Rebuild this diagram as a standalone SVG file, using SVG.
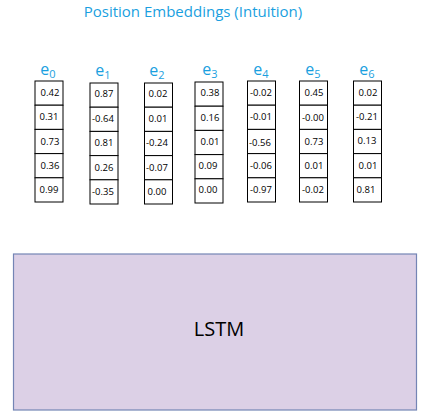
<svg xmlns="http://www.w3.org/2000/svg" width="431" height="416" viewBox="0 0 431 416">
<style>
.title{font-family:"Open Sans","Liberation Sans",sans-serif;font-size:15px;fill:#1a9fe0;text-anchor:middle}
.lab{font-family:"Open Sans","Liberation Sans",sans-serif;font-size:16px;fill:#1a9fe0;text-anchor:middle}
.sub{font-size:11px}
.cell{fill:#ffffff;stroke:#000000;stroke-width:1}
.num{font-family:"Open Sans","Liberation Sans",sans-serif;font-size:9.5px;fill:#000000;text-anchor:middle}
.lstm{fill:#dcd0e6;stroke:#7485b5;stroke-width:1.2}
.lstmt{font-family:"Open Sans","Liberation Sans",sans-serif;font-size:20px;fill:#000000;text-anchor:middle}
</style>
<rect width="431" height="416" fill="#ffffff"/>
<text class="title" x="193" y="17">Position Embeddings (Intuition)</text>
<defs>
<g id="col">
<rect class="cell" x="0" y="0" width="28" height="24.2"/>
<rect class="cell" x="0" y="24.2" width="28" height="24.2"/>
<rect class="cell" x="0" y="48.4" width="28" height="24.2"/>
<rect class="cell" x="0" y="72.6" width="28" height="24.2"/>
<rect class="cell" x="0" y="96.8" width="28" height="24.2"/>
</g>
</defs>
<g id="e0">
<text class="lab" x="48" y="75">e<tspan class="sub" dy="3">0</tspan></text>
<use href="#col" x="35" y="81"/>
<text class="num" x="50" y="96">0.42</text><text class="num" x="49" y="120">0.31</text><text class="num" x="50" y="145">0.73</text><text class="num" x="50" y="169">0.36</text><text class="num" x="49" y="193">0.99</text>
</g>
<g id="e1">
<text class="lab" x="103" y="76">e<tspan class="sub" dy="3">1</tspan></text>
<use href="#col" x="90" y="83"/>
<text class="num" x="104" y="97">0.87</text><text class="num" x="103" y="122">-0.64</text><text class="num" x="104" y="146">0.81</text><text class="num" x="104" y="171">0.26</text><text class="num" x="103" y="195">-0.35</text>
</g>
<g id="e2">
<text class="lab" x="157" y="76">e<tspan class="sub" dy="3">2</tspan></text>
<use href="#col" x="144.5" y="83"/>
<text class="num" x="158" y="97">0.02</text><text class="num" x="158" y="122">0.01</text><text class="num" x="157" y="146">-0.24</text><text class="num" x="157" y="171">-0.07</text><text class="num" x="157" y="195">0.00</text>
</g>
<g id="e3">
<text class="lab" x="210" y="75">e<tspan class="sub" dy="3">3</tspan></text>
<use href="#col" x="195" y="82"/>
<text class="num" x="210" y="96">0.38</text><text class="num" x="210" y="121">0.16</text><text class="num" x="210" y="145">0.01</text><text class="num" x="208" y="169">0.09</text><text class="num" x="208" y="193">0.00</text>
</g>
<g id="e4">
<text class="lab" x="261" y="75">e<tspan class="sub" dy="3">4</tspan></text>
<use href="#col" x="247.5" y="81"/>
<text class="num" x="261" y="96">-0.02</text><text class="num" x="261" y="120">-0.01</text><text class="num" x="260" y="146">-0.56</text><text class="num" x="261" y="169">-0.06</text><text class="num" x="261" y="193">-0.97</text>
</g>
<g id="e5">
<text class="lab" x="313" y="75">e<tspan class="sub" dy="3">5</tspan></text>
<use href="#col" x="299.5" y="81"/>
<text class="num" x="314" y="96">0.45</text><text class="num" x="313" y="121">-0.00</text><text class="num" x="314" y="145">0.73</text><text class="num" x="314" y="169">0.01</text><text class="num" x="313" y="193">-0.02</text>
</g>
<g id="e6">
<text class="lab" x="367" y="75">e<tspan class="sub" dy="3">6</tspan></text>
<use href="#col" x="353.5" y="81"/>
<text class="num" x="368" y="96">0.02</text><text class="num" x="367" y="120">-0.21</text><text class="num" x="367" y="144">0.13</text><text class="num" x="368" y="169">0.01</text><text class="num" x="366" y="193">0.81</text>
</g>
<g id="lstm">
<rect class="lstm" x="13.5" y="254" width="403" height="156"/>
<text class="lstmt" x="219" y="336">LSTM</text>
</g>
<g id="connectors"></g>
</svg>
